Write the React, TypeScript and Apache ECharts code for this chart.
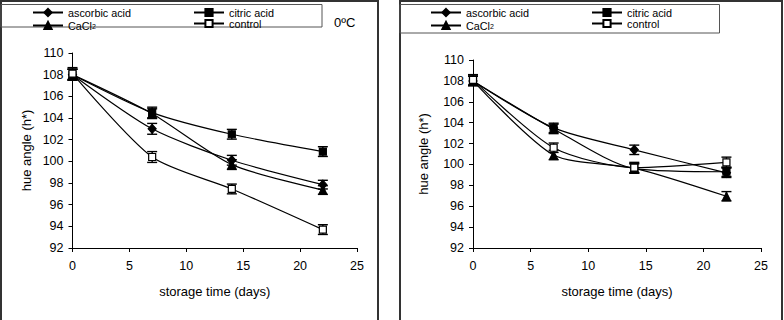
import React, { useEffect, useRef } from "react";
import * as echarts from "echarts";

// Storage days sampled
const days = [0, 7, 14, 22];

// Panel A (0ºC): hue angle h* per treatment, with ± error
const ascorbicA = [108.0, 103.0, 100.1, 97.85];
const citricA = [108.0, 104.5, 102.5, 100.9];
const caclA = [108.0, 104.4, 99.7, 97.35];
const controlA = [108.1, 100.4, 97.45, 93.7];
const ascorbicAErr = [0.5, 0.5, 0.45, 0.4];
const citricAErr = [0.5, 0.5, 0.45, 0.45];
const caclAErr = [0.5, 0.45, 0.45, 0.4];
const controlAErr = [0.55, 0.5, 0.45, 0.45];

// Panel B: hue angle h* per treatment, with ± error
const ascorbicB = [108.0, 103.5, 101.4, 99.2];
const citricB = [108.0, 103.4, 99.6, 99.3];
const caclB = [108.0, 100.9, 99.65, 96.95];
const controlB = [108.1, 101.6, 99.7, 100.2];
const ascorbicBErr = [0.45, 0.45, 0.45, 0.45];
const citricBErr = [0.45, 0.45, 0.45, 0.45];
const caclBErr = [0.45, 0.45, 0.45, 0.45];
const controlBErr = [0.5, 0.45, 0.5, 0.5];

const seriesNames = ["ascorbic acid", "citric acid", "CaCl2", "control"];

const FONT = "Liberation Sans, Arial, sans-serif";

type Treat = { name: string; symbol: string; size: number | number[]; fill: string };
const treatments: Treat[] = [
  { name: seriesNames[0], symbol: "diamond", size: [8, 9], fill: "#000" },
  { name: seriesNames[1], symbol: "rect", size: 7, fill: "#000" },
  { name: seriesNames[2], symbol: "triangle", size: 8, fill: "#000" },
  { name: seriesNames[3], symbol: "rect", size: 7, fill: "#fff" },
];

const pair = (ys: number[]) => days.map((d, i) => [d, ys[i]]);
const errRows = (ys: number[], es: number[]) =>
  days.map((d, i) => [d, ys[i] - es[i], ys[i] + es[i]]);

function lineSeries(t: Treat, ys: number[], gi: number) {
  return {
    type: "line",
    name: t.name,
    xAxisIndex: gi,
    yAxisIndex: gi,
    data: pair(ys),
    smooth: 0.25,
    symbol: t.symbol,
    symbolSize: t.size,
    showAllSymbol: true,
    lineStyle: { color: "#000", width: 1.2 },
    itemStyle: { color: t.fill, borderColor: "#000", borderWidth: 1.2 },
    z: 3,
  };
}

function errorSeries(rows: number[][], gi: number) {
  return {
    type: "custom",
    xAxisIndex: gi,
    yAxisIndex: gi,
    data: rows,
    encode: { x: 0, y: [1, 2] },
    z: 2,
    renderItem: (_p: any, api: any) => {
      const x = api.value(0);
      const top = api.coord([x, api.value(2)]);
      const bot = api.coord([x, api.value(1)]);
      const h = 5;
      const st = { stroke: "#000", lineWidth: 1.4 };
      return {
        type: "group",
        children: [
          { type: "line", shape: { x1: top[0], y1: top[1], x2: bot[0], y2: bot[1] }, style: st },
          { type: "line", shape: { x1: top[0] - h, y1: top[1], x2: top[0] + h, y2: top[1] }, style: st },
          { type: "line", shape: { x1: bot[0] - h, y1: bot[1], x2: bot[0] + h, y2: bot[1] }, style: st },
        ],
      };
    },
  };
}

function legendItem(name: string, left: number, top: number) {
  return {
    data: [name],
    left,
    top,
    padding: 0,
    itemWidth: 30,
    itemHeight: 9,
    selectedMode: false,
    formatter: (n: string) => (n === "CaCl2" ? "{t|CaCl}{s|2}" : "{t|" + n + "}"),
    textStyle: {
      color: "#000",
      fontFamily: FONT,
      fontSize: 10.8,
      lineHeight: 9,
      rich: {
        t: { fontFamily: FONT, fontSize: 10.8, lineHeight: 9, color: "#000" },
        s: { fontFamily: FONT, fontSize: 7, lineHeight: 9, color: "#000", verticalAlign: "bottom", padding: [5, 0, 0, 0] },
      },
    },
  };
}

function xAxis(gi: number) {
  return {
    type: "value",
    gridIndex: gi,
    min: 0,
    max: 25,
    interval: 5,
    name: "storage time (days)",
    nameLocation: "middle",
    nameGap: 37,
    nameTextStyle: { fontFamily: FONT, fontSize: 13, color: "#000" },
    axisLine: { lineStyle: { color: "#000", width: 1 } },
    axisTick: { length: 4, lineStyle: { color: "#000" } },
    axisLabel: { fontFamily: FONT, fontSize: 12.5, color: "#000", margin: 11 },
    splitLine: { show: false },
  };
}

function yAxis(gi: number, gap: number) {
  return {
    type: "value",
    gridIndex: gi,
    min: 92,
    max: 110,
    interval: 2,
    name: "hue angle (h*)",
    nameLocation: "middle",
    nameGap: gap,
    nameTextStyle: { fontFamily: FONT, fontSize: 13, color: "#000" },
    axisLine: { show: true, lineStyle: { color: "#000", width: 1 } },
    axisTick: { show: true, length: 4, lineStyle: { color: "#000" } },
    axisLabel: { fontFamily: FONT, fontSize: 12.5, color: "#000", margin: 9 },
    splitLine: { show: false },
  };
}

export default function App() {
  const ref = useRef<HTMLDivElement>(null);

  useEffect(() => {
    if (!ref.current) return;
    const chart = echarts.init(ref.current, null, { renderer: "svg" });

    const setsA = [ascorbicA, citricA, caclA, controlA];
    const errsA = [ascorbicAErr, citricAErr, caclAErr, controlAErr];
    const setsB = [ascorbicB, citricB, caclB, controlB];
    const errsB = [ascorbicBErr, citricBErr, caclBErr, controlBErr];

    const series: any[] = [];
    treatments.forEach((t, i) => {
      series.push(errorSeries(errRows(setsA[i], errsA[i]), 0));
      series.push(errorSeries(errRows(setsB[i], errsB[i]), 1));
    });
    treatments.forEach((t, i) => {
      series.push(lineSeries(t, setsA[i], 0));
      series.push(lineSeries(t, setsB[i], 1));
    });

    chart.setOption({
      animation: false,
      backgroundColor: "#fff",
      textStyle: { fontFamily: FONT },
      grid: [
        { left: 72.5, top: 53, width: 284.5, height: 195 },
        { left: 473, top: 60, width: 288, height: 188 },
      ],
      xAxis: [xAxis(0), xAxis(1)],
      yAxis: [yAxis(0, 40), yAxis(1, 43)],
      legend: [
        legendItem(seriesNames[0], 32, 7),
        legendItem(seriesNames[1], 193, 7),
        legendItem(seriesNames[2], 32, 18),
        legendItem(seriesNames[3], 193, 18),
        legendItem(seriesNames[0], 430, 7),
        legendItem(seriesNames[1], 591, 7),
        legendItem(seriesNames[2], 430, 18),
        legendItem(seriesNames[3], 591, 18),
      ],
      graphic: [
        { type: "rect", shape: { x: 1, y: 1, width: 377, height: 340 }, style: { fill: "none", stroke: "#333", lineWidth: 2 }, silent: true },
        { type: "rect", shape: { x: 400, y: 1, width: 382, height: 340 }, style: { fill: "none", stroke: "#333", lineWidth: 2 }, silent: true },
        { type: "rect", shape: { x: 1, y: 4.5, width: 321, height: 22.5 }, style: { fill: "none", stroke: "#555", lineWidth: 1 }, silent: true },
        { type: "rect", shape: { x: 400, y: 4.5, width: 319.5, height: 28.5 }, style: { fill: "none", stroke: "#555", lineWidth: 1 }, silent: true },
        {
          type: "text",
          x: 334,
          y: 22,
          style: { text: "0ºC", fontFamily: FONT, fontSize: 13, fill: "#000", verticalAlign: "middle" },
          silent: true,
        },
      ],
      series,
    });

    return () => chart.dispose();
  }, []);

  return (
    <div
      ref={ref}
      style={{ position: "absolute", left: 0, top: 0, width: 784, height: 320 }}
    />
  );
}
